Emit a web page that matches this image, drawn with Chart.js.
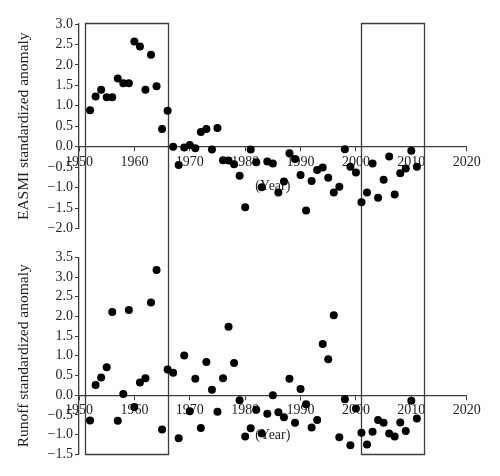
<!DOCTYPE html>
<html>
<head>
<meta charset="utf-8">
<script src="https://cdn.jsdelivr.net/npm/chart.js@4/dist/chart.umd.min.js"></script>
<style>
  html, body { margin: 0; padding: 0; background: #ffffff; }
  #wrap { position: relative; width: 500px; height: 476px; background: #ffffff; }
  #c1 { position: absolute; left: 0; top: 0; }
  #c2 { position: absolute; left: 0; top: 243px; }
</style>
</head>
<body>
<div id="wrap">
  <canvas id="c1" width="500" height="243"></canvas>
  <canvas id="c2" width="500" height="233"></canvas>
</div>
<script>
// ---- data ----
const years = [1952,1953,1954,1955,1956,1957,1958,1959,1960,1961,1962,1963,1964,1965,1966,1967,1968,1969,1970,1971,
               1972,1973,1974,1975,1976,1977,1978,1979,1980,1981,1982,1983,1984,1985,1986,1987,1988,1989,1990,1991,
               1992,1993,1994,1995,1996,1997,1998,1999,2000,2001,2002,2003,2004,2005,2006,2007,2008,2009,2010,2011];

const easmi = [0.89,1.23,1.39,1.21,1.21,1.67,1.55,1.55,2.57,2.45,1.39,2.25,1.48,0.43,0.88,0.00,-0.45,-0.02,0.04,-0.04,
               0.36,0.43,-0.07,0.46,-0.33,-0.34,-0.43,-0.71,-1.48,-0.07,-0.38,-0.99,-0.36,-0.41,-1.12,-0.85,-0.16,-0.30,-0.69,-1.56,
               -0.84,-0.57,-0.51,-0.76,-1.12,-0.98,-0.06,-0.49,-0.63,-1.36,-1.12,-0.41,-1.25,-0.81,-0.24,-1.17,-0.65,-0.53,-0.10,-0.49];

const runoff = [-0.64,0.26,0.45,0.71,2.11,-0.65,0.03,2.16,-0.30,0.32,0.43,2.35,3.18,-0.87,0.65,0.57,-1.09,1.01,-0.41,0.42,
                -0.83,0.84,0.14,-0.42,0.43,1.74,0.82,-0.13,-1.05,-0.84,-0.37,-0.97,-0.47,0.00,-0.43,-0.56,0.42,-0.70,0.16,-0.23,
                -0.82,-0.63,1.30,0.91,2.03,-1.07,-0.10,-1.27,-0.34,-0.95,-1.25,-0.93,-0.63,-0.70,-0.97,-1.05,-0.69,-0.91,-0.14,-0.59];

const boxSpans = [[1951.1, 1966.0], [2001.0, 2012.3]];
const xRange = [1950, 2020];
const easmiRange = [-2.0, 3.0];
const runoffRange = [-1.5, 3.5];
const xTitle = '(Year)';
const easmiTitle = 'EASMI standardized anomaly';
const runoffTitle = 'Runoff standardized anomaly';

// ---- styling ----
const FONT = '"Liberation Serif", "Times New Roman", serif';
const TEXT = '#231f20';
const AXIS = '#3c3c3c';

const framePlugin = {
  id: 'frame',
  beforeDatasetsDraw(chart, args, opts) {
    const { ctx, chartArea } = chart;
    const x = chart.scales.x, y = chart.scales.y;
    ctx.save();
    // "(Year)" label
    ctx.fillStyle = TEXT;
    ctx.font = '14px ' + FONT;
    ctx.textAlign = 'center';
    ctx.textBaseline = 'middle';
    ctx.fillText(xTitle, (chartArea.left + chartArea.right) / 2, y.getPixelForValue(0) + 40);
    // boxes spanning both panels
    ctx.strokeStyle = AXIS;
    ctx.lineWidth = 1.3;
    boxSpans.forEach(([a, b]) => {
      const xa = Math.round(x.getPixelForValue(a)) + 0.5;
      const xb = Math.round(x.getPixelForValue(b)) + 0.5;
      ctx.beginPath();
      if (opts.part === 'top') {
        const y0 = Math.round(y.getPixelForValue(y.max)) - 0.5;
        ctx.moveTo(xa, chart.height + 1);
        ctx.lineTo(xa, y0);
        ctx.lineTo(xb, y0);
        ctx.lineTo(xb, chart.height + 1);
      } else {
        const y1 = Math.round(y.getPixelForValue(y.min)) + 0.5;
        ctx.moveTo(xa, -1);
        ctx.lineTo(xa, y1);
        ctx.lineTo(xb, y1);
        ctx.lineTo(xb, -1);
      }
      ctx.stroke();
    });
    ctx.restore();
  }
};

function makeChart(canvasId, values, range, title, part, padding) {
  const pts = years.map((yr, i) => ({ x: yr, y: values[i] }));
  return new Chart(document.getElementById(canvasId), {
    type: 'scatter',
    data: {
      datasets: [{
        data: pts,
        pointRadius: 4,
        pointHoverRadius: 4,
        pointBackgroundColor: '#000000',
        pointBorderColor: '#000000',
        pointBorderWidth: 0
      }]
    },
    options: {
      responsive: false,
      animation: false,
      events: [],
      layout: { padding: padding },
      plugins: {
        legend: { display: false },
        tooltip: { enabled: false },
        frame: { part: part }
      },
      scales: {
        x: {
          type: 'linear',
          position: { y: 0 },
          min: xRange[0],
          max: xRange[1],
          afterFit(scale) { scale.height = 0; },
          ticks: {
            stepSize: 10,
            padding: 3,
            autoSkip: false,
            color: TEXT,
            font: { family: FONT, size: 14 },
            maxRotation: 0,
            callback: (v) => String(v)
          },
          grid: { drawOnChartArea: false, drawTicks: true, tickLength: 4, color: AXIS, lineWidth: 1 },
          border: { display: true, color: AXIS, width: 1.3 }
        },
        y: {
          type: 'linear',
          position: 'left',
          min: range[0],
          max: range[1],
          afterFit(scale) { scale.width = 79; },
          ticks: {
            stepSize: 0.5,
            padding: 2,
            autoSkip: false,
            color: TEXT,
            font: { family: FONT, size: 14 },
            callback: (v) => v.toFixed(1).replace('-', '\u2212')
          },
          grid: { drawOnChartArea: false, drawTicks: true, tickLength: 4, color: AXIS, lineWidth: 1 },
          border: { display: true, color: AXIS, width: 1.3 },
          title: {
            display: true,
            text: title,
            color: TEXT,
            font: { family: FONT, size: 15.5 },
            padding: { top: 14.7, bottom: 0 }
          }
        }
      }
    },
    plugins: [framePlugin]
  });
}

makeChart('c1', easmi, easmiRange, easmiTitle, 'top', { top: 24, bottom: 14.5, left: 0, right: 33.3 });
makeChart('c2', runoff, runoffRange, runoffTitle, 'bottom', { top: 14.3, bottom: 21.7, left: 0, right: 33.3 });
</script>
</body>
</html>
